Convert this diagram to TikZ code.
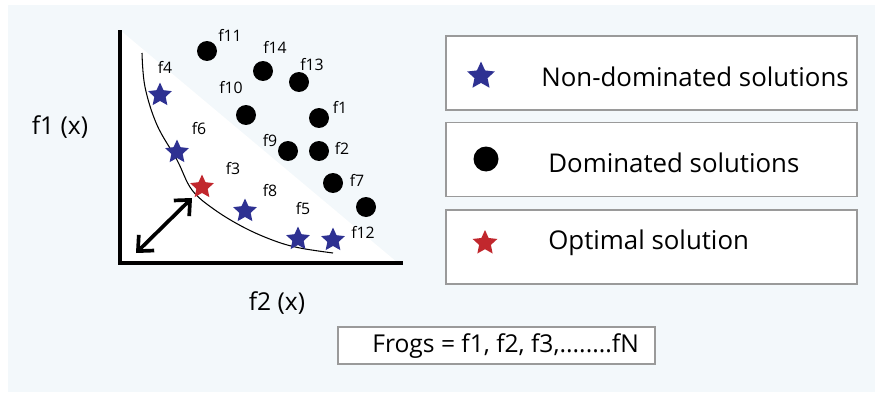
\documentclass[tikz,border=0pt]{standalone}
\usepackage{fontspec}
\setmainfont{Open Sans}
\usetikzlibrary{shapes.geometric,arrows.meta}
\definecolor{panelbg}{HTML}{F3F8FB}
\definecolor{ndblue}{HTML}{2E3192}
\definecolor{optred}{HTML}{C1272D}
\definecolor{boxgray}{HTML}{9A9A9A}

\begin{document}
\begin{tikzpicture}[x=0.02cm,y=-0.02cm,
  nondom/.style={star,star points=5,star point ratio=2.1,fill=ndblue,inner sep=0,minimum size=0.5cm},
  optim/.style={nondom,fill=optred},
  dom/.style={circle,fill=black,inner sep=0,minimum size=0.4cm},
  flbl/.style={font=\fontsize{9}{10}\selectfont,inner sep=0},
  bigtxt/.style={font=\fontsize{14}{16}\selectfont,inner sep=0},
  legtxt/.style={font=\fontsize{14.7}{16}\selectfont,inner sep=0,anchor=west},
  legbox/.style={draw=boxgray,line width=0.8pt,fill=white,minimum width=8.22cm,minimum height=1.48cm}]
\useasboundingbox (0,0) rectangle (875,392);
\fill[panelbg] (8,5) rectangle (875,392);
% objective space
\fill[white] (120,30) -- (120,263) -- (398,263) -- cycle;
\draw[line width=1.8pt] (120,30) coordinate (ytop) -- (120,263) coordinate (orig) -- (403,263) coordinate (xend);
\draw[line width=0.6pt] plot[smooth,tension=0.6] coordinates {(142,53) (145,87) (157,125) (177,160) (192,190) (215,210) (245,228) (275,241) (300,248) (333,253)};
\coordinate (arra) at (136,253);
\coordinate (arrb) at (192,198);
\draw[line width=2.1pt,{Straight Barb[length=2.4mm,width=4.4mm]}-{Straight Barb[length=2.4mm,width=4.4mm]}] (arra) -- (arrb);
% non-dominated and optimal frogs
\node[nondom] (s4) at (160,95) {};
\node[nondom] (s6) at (177,152) {};
\node[optim] (s3) at (202,187) {};
\node[nondom] (s8) at (245,211) {};
\node[nondom] (s5) at (298,239) {};
\node[nondom] (s12) at (333,240) {};
% dominated frogs
\node[dom] (d11) at (207,51) {};
\node[dom] (d14) at (263,71) {};
\node[dom] (d13) at (299,82) {};
\node[dom] (d10) at (246,115) {};
\node[dom] (d1) at (319,118) {};
\node[dom] (d9) at (288,151) {};
\node[dom] (d2) at (319,151) {};
\node[dom] (d7) at (333,183) {};
\node[dom] (d12) at (366,207) {};
% frog labels
\foreach \nm/\px/\py in {11/230/35,14/275/47,13/312/65,10/231/88,1/340/107,9/270/141,2/342/148,7/357/180,12/363/232,4/165/67,6/199/129,3/233/169,8/270/191,5/303/209}
  \node[flbl] (l\nm) at (\px,\py) {f\nm};
\node[bigtxt] (yax) at (60,127) {f1 (x)};
\node[bigtxt] (xax) at (277,303) {f2 (x)};
% legend
\node[legbox] (leg1) at (651.5,73) {};
\node[legbox] (leg2) at (651.5,159.5) {};
\node[legbox] (leg3) at (651.5,247) {};
\node[nondom,minimum size=0.58cm] (ls1) at (481,76) {};
\node[dom,minimum size=0.5cm] (ld1) at (486,159) {};
\node[optim,minimum size=0.52cm] (lo1) at (485,243) {};
\node[legtxt] (lt1) at (541,77) {Non-dominated solutions};
\node[legtxt] (lt2) at (548,163) {Dominated solutions};
\node[legtxt] (lt3) at (548,243) {Optimal solution};
% population
\node[draw=boxgray,line width=0.8pt,fill=white,minimum width=6.34cm,minimum height=0.74cm] (frogbox) at (496.5,345.5) {};
\node[bigtxt,anchor=west] (frogs) at (372,346) {Frogs = f1, f2, f3,........fN};
\end{tikzpicture}
\end{document}
